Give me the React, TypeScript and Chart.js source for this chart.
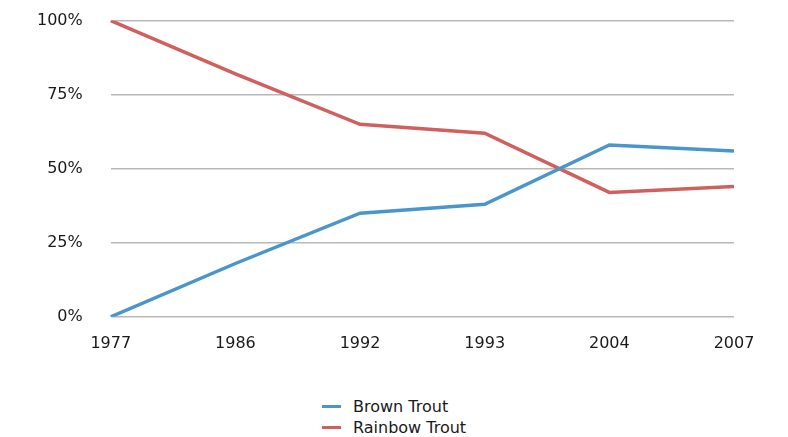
import React, { useEffect, useRef } from "react";
import { Chart, registerables } from "chart.js";

Chart.register(...registerables);

const years = ["1977", "1986", "1992", "1993", "2004", "2007"];
const brownTrout = [0, 18, 35, 38, 58, 56];
const rainbowTrout = [100, 82, 65, 62, 42, 44];
const seriesNames = ["Brown Trout", "Rainbow Trout"];
const seriesColors = ["#4A96CC", "#D0605D"];

const FONT = "'DejaVu Sans', Verdana, sans-serif";

export default function App() {
  const ref = useRef<HTMLCanvasElement | null>(null);
  useEffect(() => {
    if (!ref.current) return;
    const chart = new Chart(ref.current, {
      type: "line",
      data: {
        labels: years,
        datasets: [
          {
            label: seriesNames[0],
            data: brownTrout,
            borderColor: seriesColors[0],
            backgroundColor: seriesColors[0],
            borderWidth: 3.5,
            pointRadius: 0,
            tension: 0,
          },
          {
            label: seriesNames[1],
            data: rainbowTrout,
            borderColor: seriesColors[1],
            backgroundColor: seriesColors[1],
            borderWidth: 3.5,
            pointRadius: 0,
            tension: 0,
          },
        ],
      },
      options: {
        animation: false,
        responsive: false,
        maintainAspectRatio: false,
        layout: { padding: { left: 9, right: 54, top: 11, bottom: 0 } },
        plugins: { legend: { display: false }, tooltip: { enabled: false } },
        scales: {
          x: {
            offset: false,
            grid: { display: false },
            border: { display: false },
            ticks: {
              color: "#1a1a1a",
              font: { family: FONT, size: 16 },
              padding: 9,
              maxRotation: 0,
              autoSkip: false,
            },
          },
          y: {
            min: 0,
            max: 100,
            grid: { color: "#b8b8b8", lineWidth: 1.5, drawTicks: false },
            border: { display: false },
            ticks: {
              stepSize: 25,
              color: "#1a1a1a",
              font: { family: FONT, size: 16 },
              padding: 28,
              callback: (v: any) => v + "%",
            },
          },
        },
      },
    });
    return () => chart.destroy();
  }, []);

  const legendItem = (i: number) => (
    <div key={i} style={{ display: "flex", alignItems: "center", height: 21 }}>
      <div style={{ width: 19, height: 3, background: seriesColors[i], marginRight: 12 }} />
      <span>{seriesNames[i]}</span>
    </div>
  );

  return (
    <div style={{ position: "fixed", left: 0, top: 0, width: 788, height: 437, background: "#fff", overflow: "hidden" }}>
      <canvas ref={ref} width={788} height={379} style={{ position: "absolute", left: 0, top: -17 }} />
      <div
        style={{
          position: "absolute",
          left: 322,
          top: 396,
          fontFamily: FONT,
          fontSize: 16,
          color: "#1a1a1a",
        }}
      >
        {seriesNames.map((_, i) => legendItem(i))}
      </div>
    </div>
  );
}
